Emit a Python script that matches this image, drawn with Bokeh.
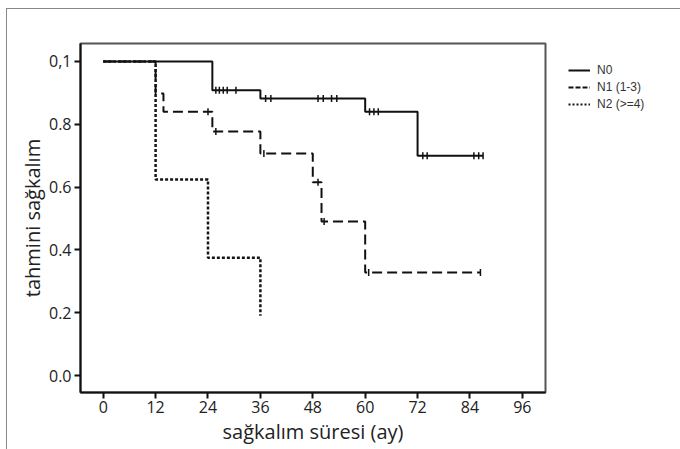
import numpy as np
from bokeh.plotting import figure
from bokeh.layouts import row
from bokeh.models import FixedTicker, Legend, LegendItem, Range1d
from bokeh.embed import file_html
from bokeh.resources import INLINE

# ---- data ----
x_ticks = [0, 12, 24, 36, 48, 60, 72, 84, 96]
y_ticks = [0.0, 0.2, 0.4, 0.6, 0.8, 1.0]
y_tick_labels = ["0.0", "0.2", "0.4", "0.6", "0.8", "0,1"]

n0_times = [0, 25, 36, 60, 72]
n0_surv = [1.0, 0.908, 0.882, 0.84, 0.70]
n0_end = 87
n0_censor = [25.8, 26.6, 27.5, 28.4, 30.4, 37.2, 38.4, 49.2, 50.4, 52.3, 53.5,
             61.0, 62.0, 63.0, 73.2, 74.2, 84.9, 86.0, 87.0]

n1_times = [0, 12, 13.8, 25, 36, 48, 50, 60]
n1_surv = [1.0, 0.898, 0.84, 0.777, 0.707, 0.615, 0.49, 0.328]
n1_end = 86.4
n1_censor = [24.0, 25.8, 36.8, 49.2, 50.6, 60.8, 86.4]

n2_times = [0, 12, 24, 36]
n2_surv = [1.0, 0.624, 0.375, 0.19]
n2_end = 36
n2_censor = []

labels = ["N0", "N1 (1-3)", "N2 (>=4)"]


def step_path(times, surv, end):
    xs, ys = [times[0]], [surv[0]]
    for i in range(1, len(times)):
        xs += [times[i], times[i]]
        ys += [surv[i - 1], surv[i]]
    xs.append(end)
    ys.append(surv[-1])
    return xs, ys


def censor_points(times, surv, cens):
    t = np.asarray(times)
    idx = np.searchsorted(t, np.asarray(cens, dtype=float), side="right") - 1
    return list(cens), [surv[i] for i in idx]


p = figure(width=541, height=440, output_backend="svg", toolbar_location=None,
           x_range=Range1d(-5.2, 101.3), y_range=Range1d(-0.054, 1.057),
           min_border_left=73, min_border_top=34, min_border_right=3,
           min_border_bottom=57)
p.title.visible = False
p.grid.visible = False
p.background_fill_color = "white"
p.border_fill_color = "white"
p.outline_line_color = "#555555"
p.outline_line_width = 2

font = "Open Sans"
for ax in (p.xaxis[0], p.yaxis[0]):
    ax.axis_line_color = "#111111"
    ax.axis_line_width = 2
    ax.major_tick_line_color = "#111111"
    ax.major_tick_line_width = 2
    ax.major_tick_out = 6
    ax.major_tick_in = 0
    ax.minor_tick_line_color = None
    ax.major_label_text_font = font
    ax.major_label_text_font_size = "16px"
    ax.major_label_text_color = "#222222"
    ax.axis_label_text_font = font
    ax.axis_label_text_font_size = "20px"
    ax.axis_label_text_font_style = "normal"
    ax.axis_label_text_color = "#222222"

p.xaxis.ticker = FixedTicker(ticks=x_ticks)
p.yaxis.ticker = FixedTicker(ticks=y_ticks)
p.yaxis.major_label_overrides = {t: l for t, l in zip(y_ticks, y_tick_labels)}
p.xaxis.axis_label = "sağkalım süresi (ay)"
p.yaxis.axis_label = "tahmini sağkalım"
p.xaxis.major_label_standoff = 2
p.xaxis.axis_label_standoff = 2
p.yaxis.major_label_standoff = 3
p.yaxis.axis_label_standoff = 0

# legend panel (separate figure so that the legend is not clipped)
pl = figure(width=132, height=440, output_backend="svg", toolbar_location=None,
            x_range=Range1d(0, 1), y_range=Range1d(0, 1),
            min_border_left=0, min_border_top=34, min_border_right=0,
            min_border_bottom=57)
pl.title.visible = False
pl.axis.visible = False
pl.grid.visible = False
pl.outline_line_color = None
pl.background_fill_color = "white"
pl.border_fill_color = "white"

styles = [
    dict(color="#111111", line_width=2, line_dash="solid"),
    dict(color="#111111", line_width=2, line_dash="10 5"),
    dict(color="#151515", line_width=2.5, line_dash="3 2"),
]
legend_dash = ["solid", "5 2", "2 2"]
series = [
    (n0_times, n0_surv, n0_end, n0_censor),
    (n1_times, n1_surv, n1_end, n1_censor),
    (n2_times, n2_surv, n2_end, n2_censor),
]

items = []
for (times, surv, end, cens), st, ld, lab in zip(series, styles, legend_dash, labels):
    xs, ys = step_path(times, surv, end)
    p.line(xs, ys, line_color=st["color"], line_width=st["line_width"],
           line_dash=st["line_dash"])
    if cens:
        cx, cy = censor_points(times, surv, cens)
        p.scatter(cx, cy, marker="dash", angle=np.pi / 2, size=7,
                  line_color="#111111", line_width=1.5)
    lr = pl.line([np.nan, np.nan], [np.nan, np.nan], line_color=st["color"],
                 line_width=2, line_dash=ld)
    items.append(LegendItem(label=lab, renderers=[lr]))

legend = Legend(items=items, location="top_left", margin=10, padding=10,
                spacing=3, glyph_height=14, glyph_width=22, label_height=14,
                label_standoff=7, label_text_font="Liberation Sans",
                label_text_font_size="12px", label_text_color="#333333",
                border_line_alpha=0, background_fill_alpha=0)
pl.add_layout(legend)

layout = row(p, pl)
layout.styles = {"position": "relative", "left": "6px", "top": "8px",
                 "border-left": "1px solid #888888",
                 "border-top": "1px solid #888888"}

open("out.html", "w").write(file_html(layout, INLINE))
